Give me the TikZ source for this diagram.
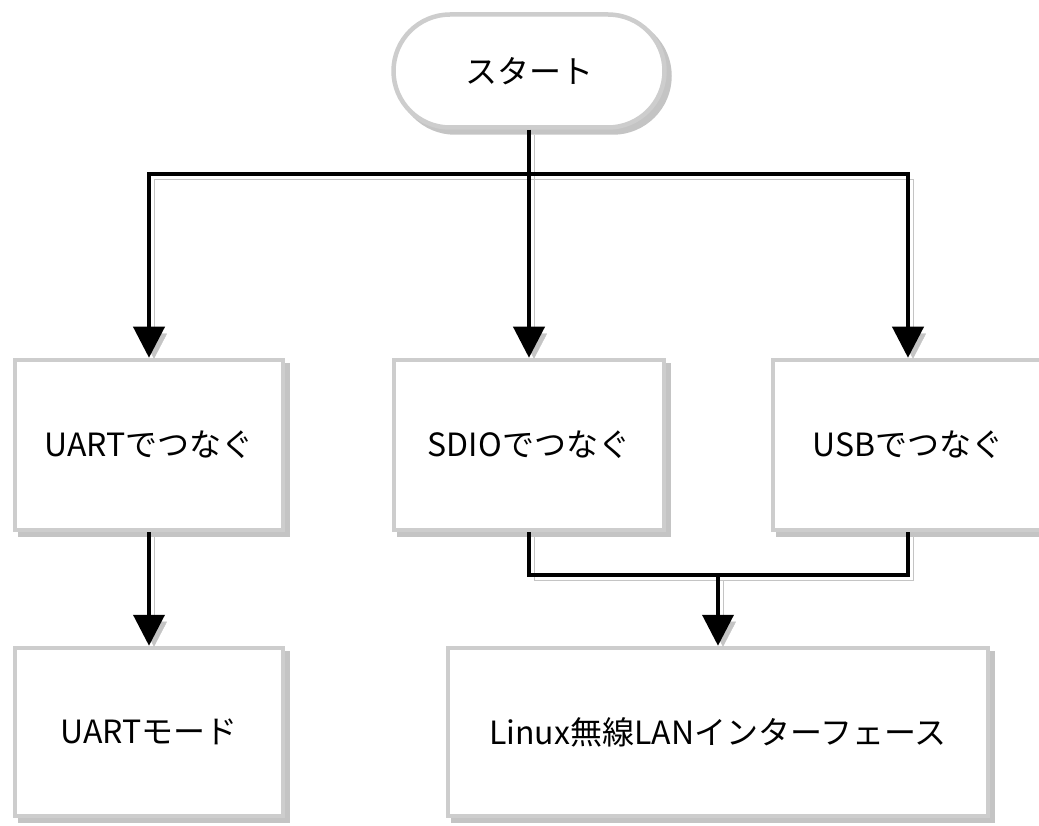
\documentclass[tikz,border=0pt]{standalone}
\usepackage{fontspec}
\setmainfont{Noto Sans CJK JP}
\usetikzlibrary{arrows.meta,shapes.misc,shadows}
\definecolor{bordergray}{HTML}{CDCDCD}
\definecolor{shgray}{HTML}{C4C4C4}
\begin{document}
\begin{tikzpicture}[x=1pt,y=-1pt,
  box/.style={draw=bordergray, fill=white, line width=4.5pt, rectangle,
    inner sep=0pt, font=\fontsize{32}{38}\selectfont,
    general shadow={shadow xshift=5pt, shadow yshift=-5pt, fill=shgray, draw=shgray, line width=4.5pt}},
  conn/.style={line width=4pt, -{Triangle[length=31pt,width=31pt]},
    preaction={draw=shgray, transform canvas={xshift=5pt,yshift=-5pt}}},
  line/.style={line width=4pt,
    preaction={draw=shgray, transform canvas={xshift=5pt,yshift=-5pt}}}
]
\useasboundingbox (0,0) rectangle (1039,826);
\node[box, rounded rectangle, minimum width=271pt, minimum height=113pt] (start) at (529,71) {スタート};
\node[box, minimum width=268pt, minimum height=170pt] (uart) at (149,445) {UARTでつなぐ};
\node[box, minimum width=270pt, minimum height=170pt] (sdio) at (529,445) {SDIOでつなぐ};
\node[box, minimum width=270pt, minimum height=170pt] (usb) at (908,445) {USBでつなぐ};
\node[box, minimum width=268pt, minimum height=168pt] (mode) at (149,732) {UARTモード};
\node[box, minimum width=540pt, minimum height=168pt] (linux) at (718,732) {Linux無線LANインターフェース};
\coordinate (j1) at (529,174);
\coordinate (j2) at (718,575);
\draw[line] (start.south) -- (j1);
\draw[conn] (j1) -| (uart.north);
\draw[conn] (j1) -- (sdio.north);
\draw[conn] (j1) -| (usb.north);
\draw[conn] (uart.south) -- (mode.north);
\draw[line] (sdio.south) |- (j2);
\draw[line] (usb.south) |- (j2);
\draw[conn] (j2) -- (linux.north);
\end{tikzpicture}
\end{document}
